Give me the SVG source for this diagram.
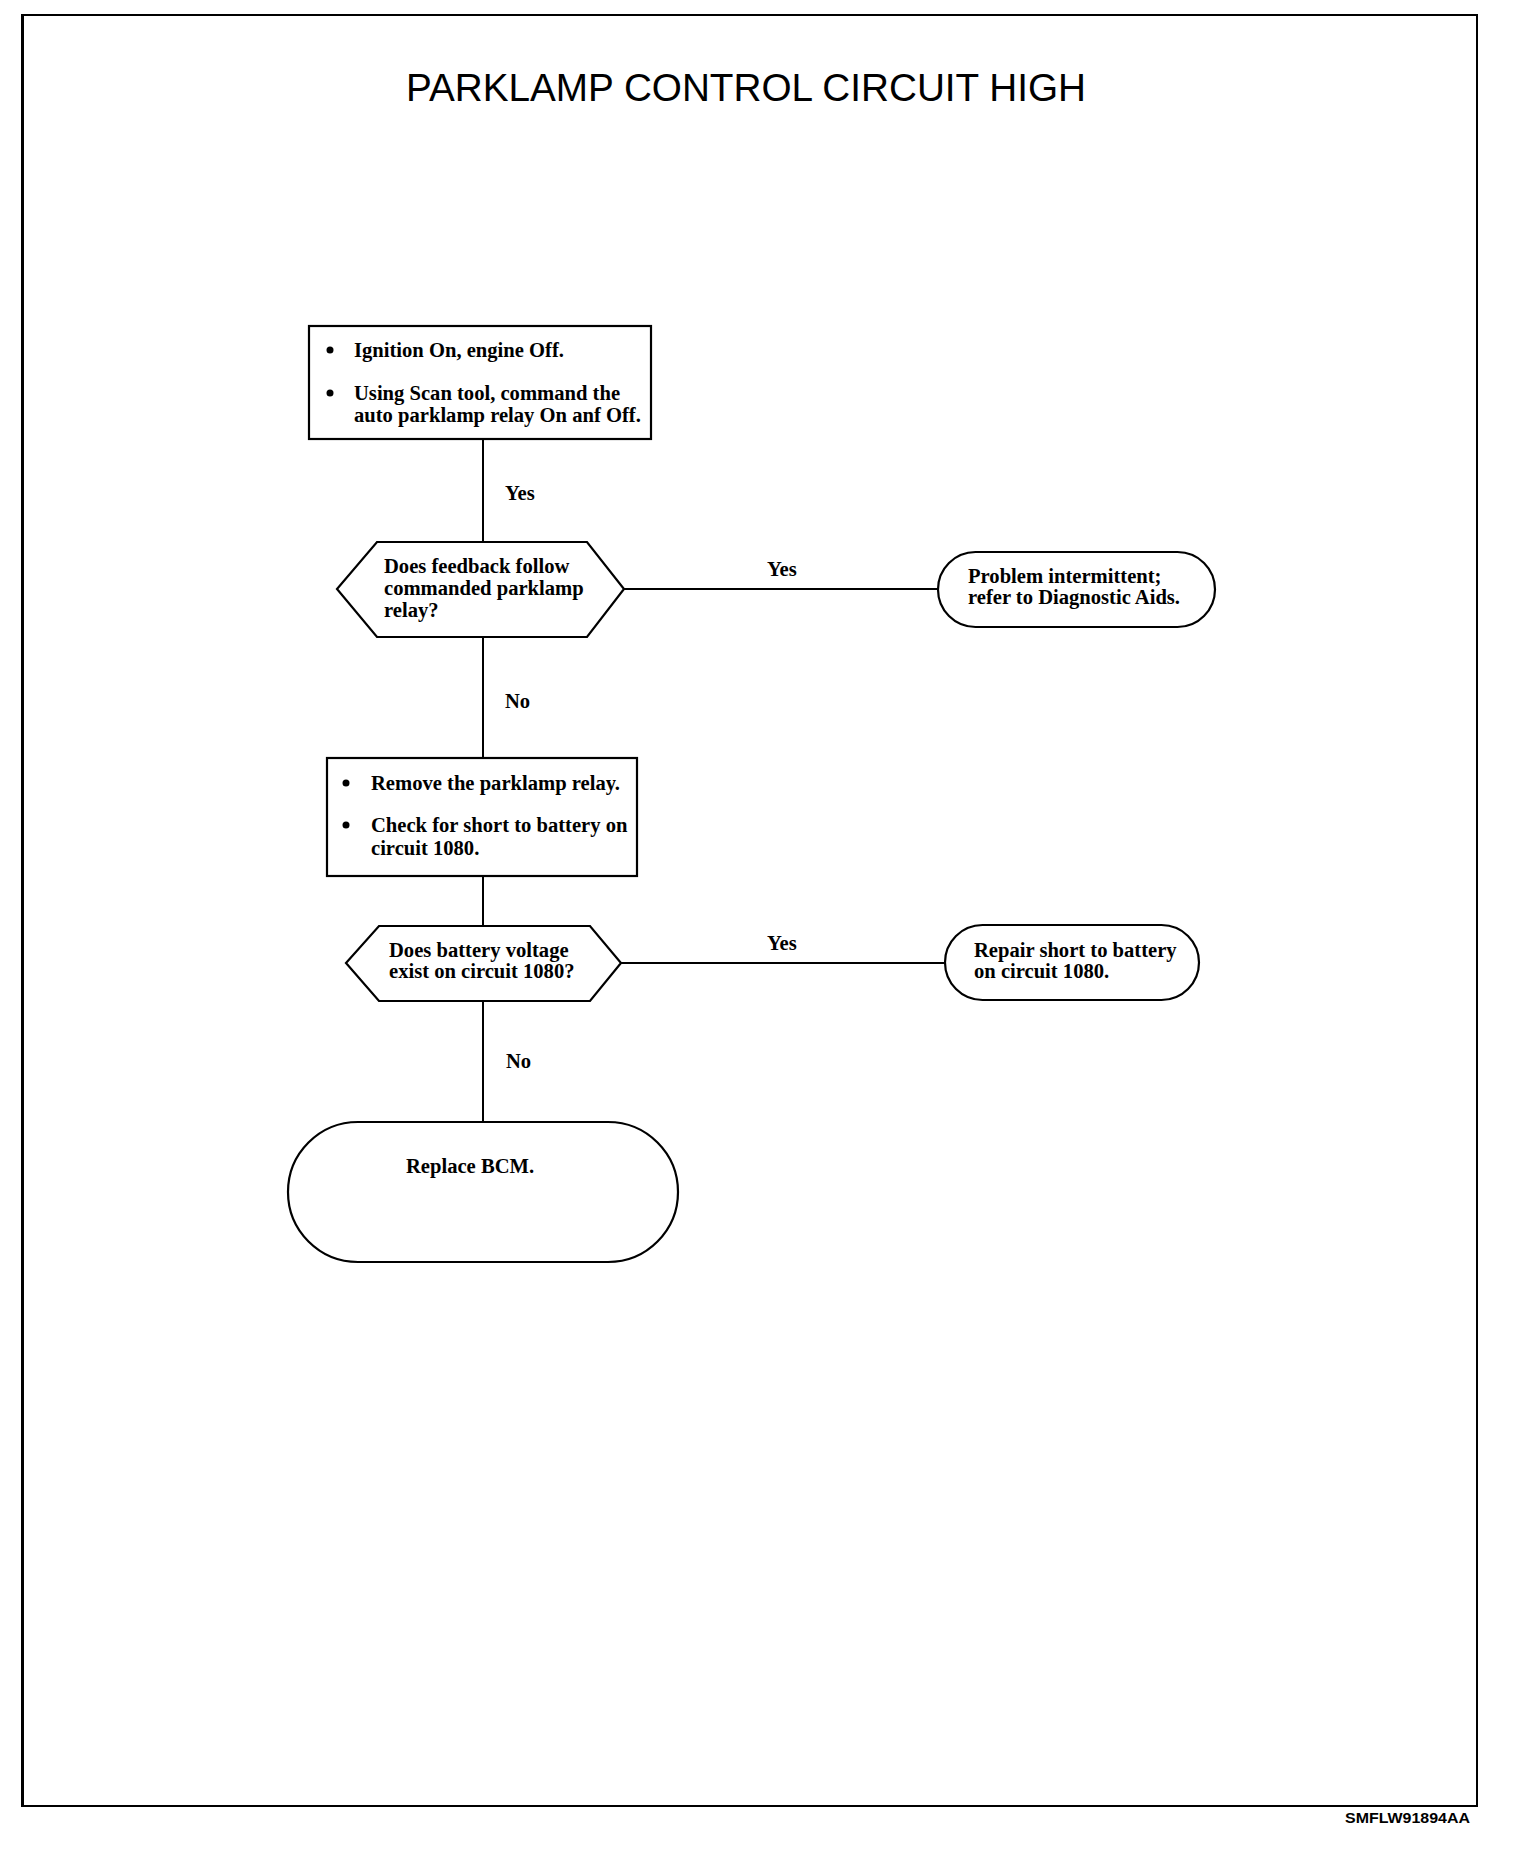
<svg xmlns="http://www.w3.org/2000/svg" width="1520" height="1850" viewBox="0 0 1520 1850">
<style>
.shape{fill:#fff;stroke:#000;stroke-width:2.2}
.t{font-family:"Liberation Serif","Times New Roman",serif;font-size:20.6px;font-weight:bold;fill:#000}
.lbl{font-family:"Liberation Serif","Times New Roman",serif;font-size:20.6px;font-weight:bold;fill:#000}
.conn{stroke:#000;stroke-width:2;fill:none}
</style>
<rect x="0" y="0" width="1520" height="1850" fill="#fff"/>
<g id="frame">
<rect x="22" y="15" width="1455" height="1791" fill="none" stroke="#000" stroke-width="2"/>
<line x1="22.5" y1="15" x2="22.5" y2="1807" stroke="#000" stroke-width="3"/>
</g>
<text id="title" x="746" y="101" text-anchor="middle" font-family="'Liberation Sans',Arial,sans-serif" font-size="38" textLength="680" lengthAdjust="spacingAndGlyphs">PARKLAMP CONTROL CIRCUIT HIGH</text>
<g id="connectors">
<line class="conn" x1="483" y1="439" x2="483" y2="542"/>
<line class="conn" x1="483" y1="637" x2="483" y2="758"/>
<line class="conn" x1="624" y1="589" x2="938" y2="589"/>
<line class="conn" x1="483" y1="876" x2="483" y2="926"/>
<line class="conn" x1="621" y1="963" x2="945" y2="963"/>
<line class="conn" x1="483" y1="1001" x2="483" y2="1122"/>
<text class="lbl" x="505" y="500">Yes</text>
<text class="lbl" x="767" y="576">Yes</text>
<text class="lbl" x="505" y="708">No</text>
<text class="lbl" x="767" y="950">Yes</text>
<text class="lbl" x="506" y="1068">No</text>
</g>
<g id="box1">
<rect class="shape" x="309" y="326" width="342" height="113"/>
<circle cx="330" cy="350" r="3.5"/>
<text class="t" x="354" y="357">Ignition On, engine Off.</text>
<circle cx="330" cy="393" r="3.5"/>
<text class="t" x="354" y="400">Using Scan tool, command the</text>
<text class="t" x="354" y="422">auto parklamp relay On anf Off.</text>
</g>
<g id="decision1">
<polygon class="shape" points="377,542 587,542 624,589 587,637 377,637 337,589"/>
<text class="t" x="384" y="573">Does feedback follow</text>
<text class="t" x="384" y="595">commanded parklamp</text>
<text class="t" x="384" y="617">relay?</text>
</g>
<g id="end1">
<rect class="shape" x="938" y="552" width="277" height="75" rx="37.5"/>
<text class="t" x="968" y="583">Problem intermittent;</text>
<text class="t" x="968" y="604">refer to Diagnostic Aids.</text>
</g>
<g id="box2">
<rect class="shape" x="327" y="758" width="310" height="118"/>
<circle cx="346" cy="783" r="3.5"/>
<text class="t" x="371" y="790">Remove the parklamp relay.</text>
<circle cx="346" cy="825" r="3.5"/>
<text class="t" x="371" y="832">Check for short to battery on</text>
<text class="t" x="371" y="855">circuit 1080.</text>
</g>
<g id="decision2">
<polygon class="shape" points="379,926 590,926 621,963 590,1001 379,1001 346,963"/>
<text class="t" x="389" y="957">Does battery voltage</text>
<text class="t" x="389" y="978">exist on circuit 1080?</text>
</g>
<g id="end2">
<rect class="shape" x="945" y="925" width="254" height="75" rx="37.5"/>
<text class="t" x="974" y="957">Repair short to battery</text>
<text class="t" x="974" y="978">on circuit 1080.</text>
</g>
<g id="end3">
<rect class="shape" x="288" y="1122" width="390" height="140" rx="70"/>
<text class="t" x="406" y="1173">Replace BCM.</text>
</g>
<text id="code" x="1345" y="1823" font-family="'Liberation Sans',Arial,sans-serif" font-size="14" font-weight="bold" textLength="125" lengthAdjust="spacingAndGlyphs">SMFLW91894AA</text>
</svg>
